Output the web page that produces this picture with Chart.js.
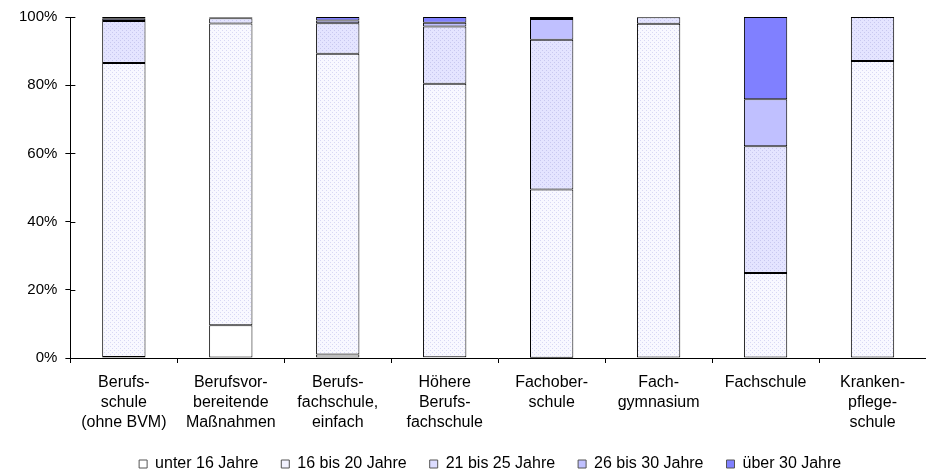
<!DOCTYPE html>
<html>
<head>
<meta charset="utf-8">
<script src="https://cdn.jsdelivr.net/npm/chart.js@4"></script>
<style>
  html, body { margin: 0; padding: 0; background: #fff; }
  #wrap { width: 926px; height: 473px; }
</style>
</head>
<body>
<div id="wrap"><canvas id="chart" width="926" height="473"></canvas></div>
<script>
const categories = [
  ["Berufs-", "schule", "(ohne BVM)"],
  ["Berufsvor-", "bereitende", "Maßnahmen"],
  ["Berufs-", "fachschule,", "einfach"],
  ["Höhere", "Berufs-", "fachschule"],
  ["Fachober-", "schule"],
  ["Fach-", "gymnasium"],
  ["Fachschule"],
  ["Kranken-", "pflege-", "schule"]
];

const seriesNames = ["unter 16 Jahre", "16 bis 20 Jahre", "21 bis 25 Jahre", "26 bis 30 Jahre", "über 30 Jahre"];

// shares in percent
const under16 = [0.3, 9.6, 1.0, 0.2, 0.1, 0.0, 0.0, 0.0];
const age16to20 = [86.2, 88.5, 88.2, 80.2, 49.3, 98.0, 24.9, 87.1];
const age21to25 = [12.3, 1.5, 9.0, 16.8, 43.9, 1.9, 37.2, 12.9];
const age26to30 = [0.7, 0.25, 0.8, 1.1, 6.1, 0.1, 13.8, 0.0];
const over30 = [0.5, 0.15, 1.0, 1.7, 0.6, 0.0, 24.1, 0.0];

const yTicks = [0, 20, 40, 60, 80, 100];

function dotted(bg, dot) {
  const c = document.createElement("canvas");
  c.width = 4; c.height = 4;
  const g = c.getContext("2d");
  g.fillStyle = bg; g.fillRect(0, 0, 4, 4);
  g.fillStyle = dot;
  g.fillRect(0, 0, 1, 1);
  g.fillRect(2, 2, 1, 1);
  return document.getElementById("chart").getContext("2d").createPattern(c, "repeat");
}

const fills = [
  "#ffffff",
  dotted("#f8f8ff", "#d8d8f4"),
  dotted("#e4e4ff", "#c8c8f0"),
  "#c0c0ff",
  "#8080ff"
];
const legendFills = ["#ffffff", "#f2f2ff", "#dcdcff", "#c0c0ff", "#8080ff"];
const values = [under16, age16to20, age21to25, age26to30, over30];

Chart.defaults.font.family = "'Liberation Sans', Arial, sans-serif";
Chart.defaults.font.size = 16;
Chart.defaults.color = "#000";

// y ticks in the reference cross the axis line
const crossTicks = {
  id: "crossTicks",
  afterDraw(chart) {
    const y = chart.scales.y, ctx = chart.ctx;
    ctx.save();
    ctx.strokeStyle = "#000";
    ctx.lineWidth = 1;
    y.ticks.forEach(t => {
      const py = Math.round(y.getPixelForValue(t.value)) + 0.5;
      ctx.beginPath();
      ctx.moveTo(y.right, py);
      ctx.lineTo(y.right + 5, py);
      ctx.stroke();
    });
    ctx.restore();
  }
};

// legend sits a bit higher and left of where the layout puts it
const legendShift = {
  id: "legendShift",
  afterLayout(chart) {
    const l = chart.legend;
    l.top -= 10; l.bottom -= 10;
    l.left -= 8; l.right -= 8;
  }
};

new Chart(document.getElementById("chart"), {
  type: "bar",
  data: {
    labels: categories,
    datasets: seriesNames.map((name, i) => ({
      label: name,
      data: values[i],
      backgroundColor: fills[i],
      borderColor: "#000",
      borderWidth: 1,
      borderSkipped: false,
      categoryPercentage: 0.81,
      barPercentage: 0.5
    }))
  },
  plugins: [crossTicks, legendShift],
  options: {
    responsive: false,
    animation: false,
    layout: { padding: { top: 16, right: -4, left: 11, bottom: -19 } },
    plugins: {
      legend: {
        position: "bottom",
        fullSize: false,
        labels: {
          boxWidth: 8,
          boxHeight: 8,
          padding: 23,
          color: "#000",
          generateLabels(chart) {
            return chart.data.datasets.map((d, i) => ({
              text: d.label,
              fillStyle: legendFills[i],
              strokeStyle: "#555",
              lineWidth: 1,
              datasetIndex: i
            }));
          }
        }
      },
      tooltip: { enabled: false }
    },
    scales: {
      x: {
        stacked: true,
        grid: { offset: true, drawOnChartArea: false, tickLength: 5, color: "#000" },
        border: { color: "#000" },
        ticks: { maxRotation: 0, autoSkip: false, font: { size: 16, lineHeight: 1.25 }, padding: 10 }
      },
      y: {
        stacked: true,
        min: 0,
        max: 100,
        afterBuildTicks(axis) { axis.ticks = yTicks.map(v => ({ value: v })); },
        grid: { drawOnChartArea: false, tickLength: 5, color: "#000" },
        border: { color: "#000" },
        ticks: { callback: v => v + "%", padding: 8, font: { size: 15 } }
      }
    }
  }
});
</script>
</body>
</html>
